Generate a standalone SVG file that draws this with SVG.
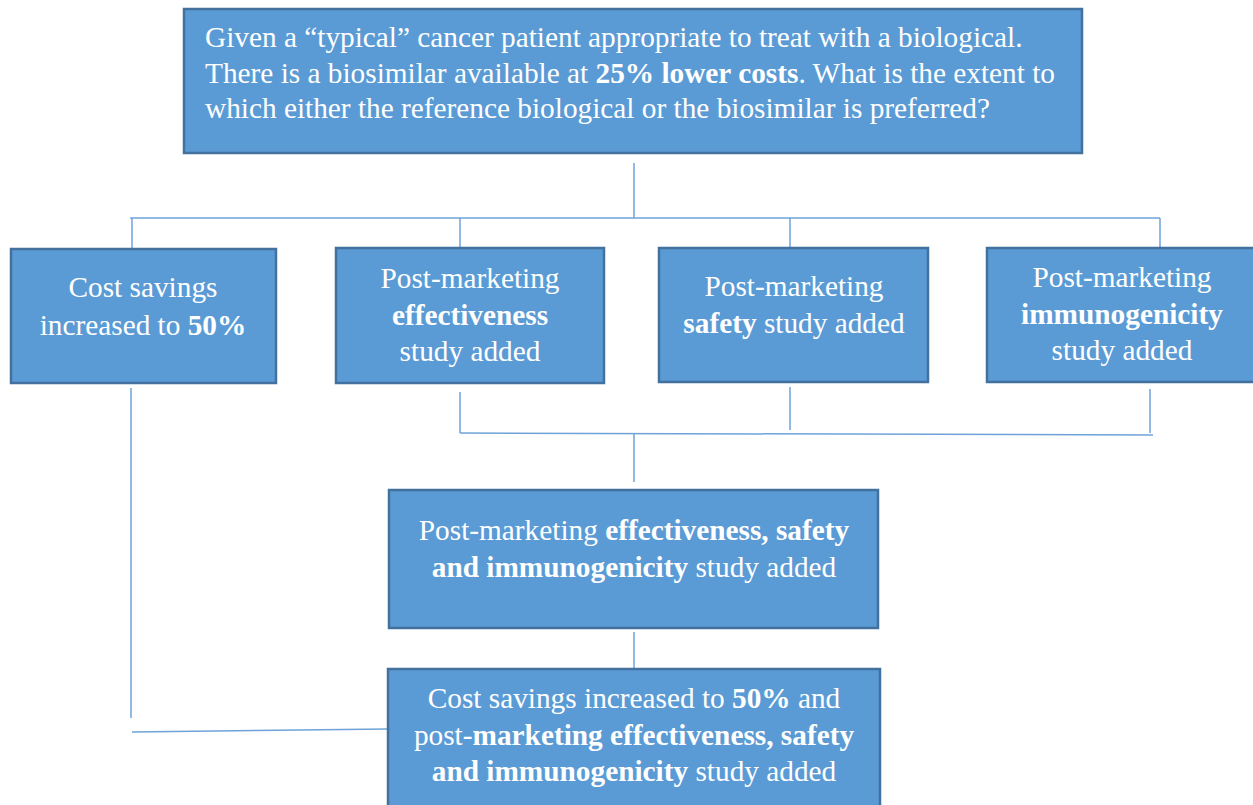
<svg xmlns="http://www.w3.org/2000/svg" width="1253" height="805" viewBox="0 0 1253 805">
  <style>
    .box { fill: #5b9bd5; stroke: #41719c; stroke-width: 2.5; }
    .lbl { font-family: "Liberation Serif", "Times New Roman", serif; font-size: 29.3px; fill: #ffffff; }
    .c { text-anchor: middle; }
    .b { font-weight: bold; }
    .wire { fill: none; stroke: #6fa3d8; stroke-width: 1.5; }
  </style>
  <rect width="1253" height="805" fill="#ffffff"/>

  <!-- connectors -->
  <g id="connectors">
    <path class="wire" d="M634 163 V218"/>
    <path class="wire" d="M130 218 H1160"/>
    <path class="wire" d="M132 218 V249"/>
    <path class="wire" d="M460 218 V248"/>
    <path class="wire" d="M790 218 V248"/>
    <path class="wire" d="M1160 218 V248"/>
    <path class="wire" d="M460 392 V433"/>
    <path class="wire" d="M790 387 V430"/>
    <path class="wire" d="M1150 389 V433"/>
    <path class="wire" d="M460 433 L1153 435"/>
    <path class="wire" d="M634 434 V482"/>
    <path class="wire" d="M634 632 V668"/>
    <path class="wire" d="M131 388 V718"/>
    <path class="wire" d="M132 732 L388 729"/>
  </g>

  <!-- question -->
  <g id="question">
    <rect class="box" x="184" y="9" width="898" height="144"/>
    <text class="lbl" x="205" y="47">Given a “typical” cancer patient appropriate to treat with a biological.</text>
    <text class="lbl" x="205" y="83">There is a biosimilar available at <tspan class="b">25% lower costs</tspan>. What is the extent to</text>
    <text class="lbl" x="205" y="118">which either the reference biological or the biosimilar is preferred?</text>
  </g>

  <g id="cost-savings">
    <rect class="box" x="11" y="249" width="265" height="134"/>
    <text class="lbl c" x="143" y="297">Cost savings</text>
    <text class="lbl c" x="143" y="335">increased to <tspan class="b">50%</tspan></text>
  </g>

  <g id="effectiveness">
    <rect class="box" x="336" y="248" width="268" height="135"/>
    <text class="lbl c" x="470" y="288">Post-marketing</text>
    <text class="lbl c b" x="470" y="325">effectiveness</text>
    <text class="lbl c" x="470" y="361">study added</text>
  </g>

  <g id="safety">
    <rect class="box" x="659" y="248" width="269" height="134"/>
    <text class="lbl c" x="794" y="296">Post-marketing</text>
    <text class="lbl c" x="794" y="333"><tspan class="b">safety</tspan> study added</text>
  </g>

  <g id="immunogenicity">
    <rect class="box" x="987" y="248" width="270" height="134"/>
    <text class="lbl c" x="1122" y="287">Post-marketing</text>
    <text class="lbl c b" x="1122" y="324">immunogenicity</text>
    <text class="lbl c" x="1122" y="360">study added</text>
  </g>

  <g id="combined-studies">
    <rect class="box" x="389" y="490" width="489" height="138"/>
    <text class="lbl c" x="634" y="540">Post-marketing <tspan class="b">effectiveness, safety</tspan></text>
    <text class="lbl c" x="634" y="577"><tspan class="b">and immunogenicity</tspan> study added</text>
  </g>

  <g id="combined-all">
    <rect class="box" x="388" y="669" width="492" height="145"/>
    <text class="lbl c" x="634" y="708">Cost savings increased to <tspan class="b">50%</tspan> and</text>
    <text class="lbl c" x="634" y="745">post-<tspan class="b">marketing effectiveness, safety</tspan></text>
    <text class="lbl c" x="634" y="781"><tspan class="b">and immunogenicity</tspan> study added</text>
  </g>
</svg>
